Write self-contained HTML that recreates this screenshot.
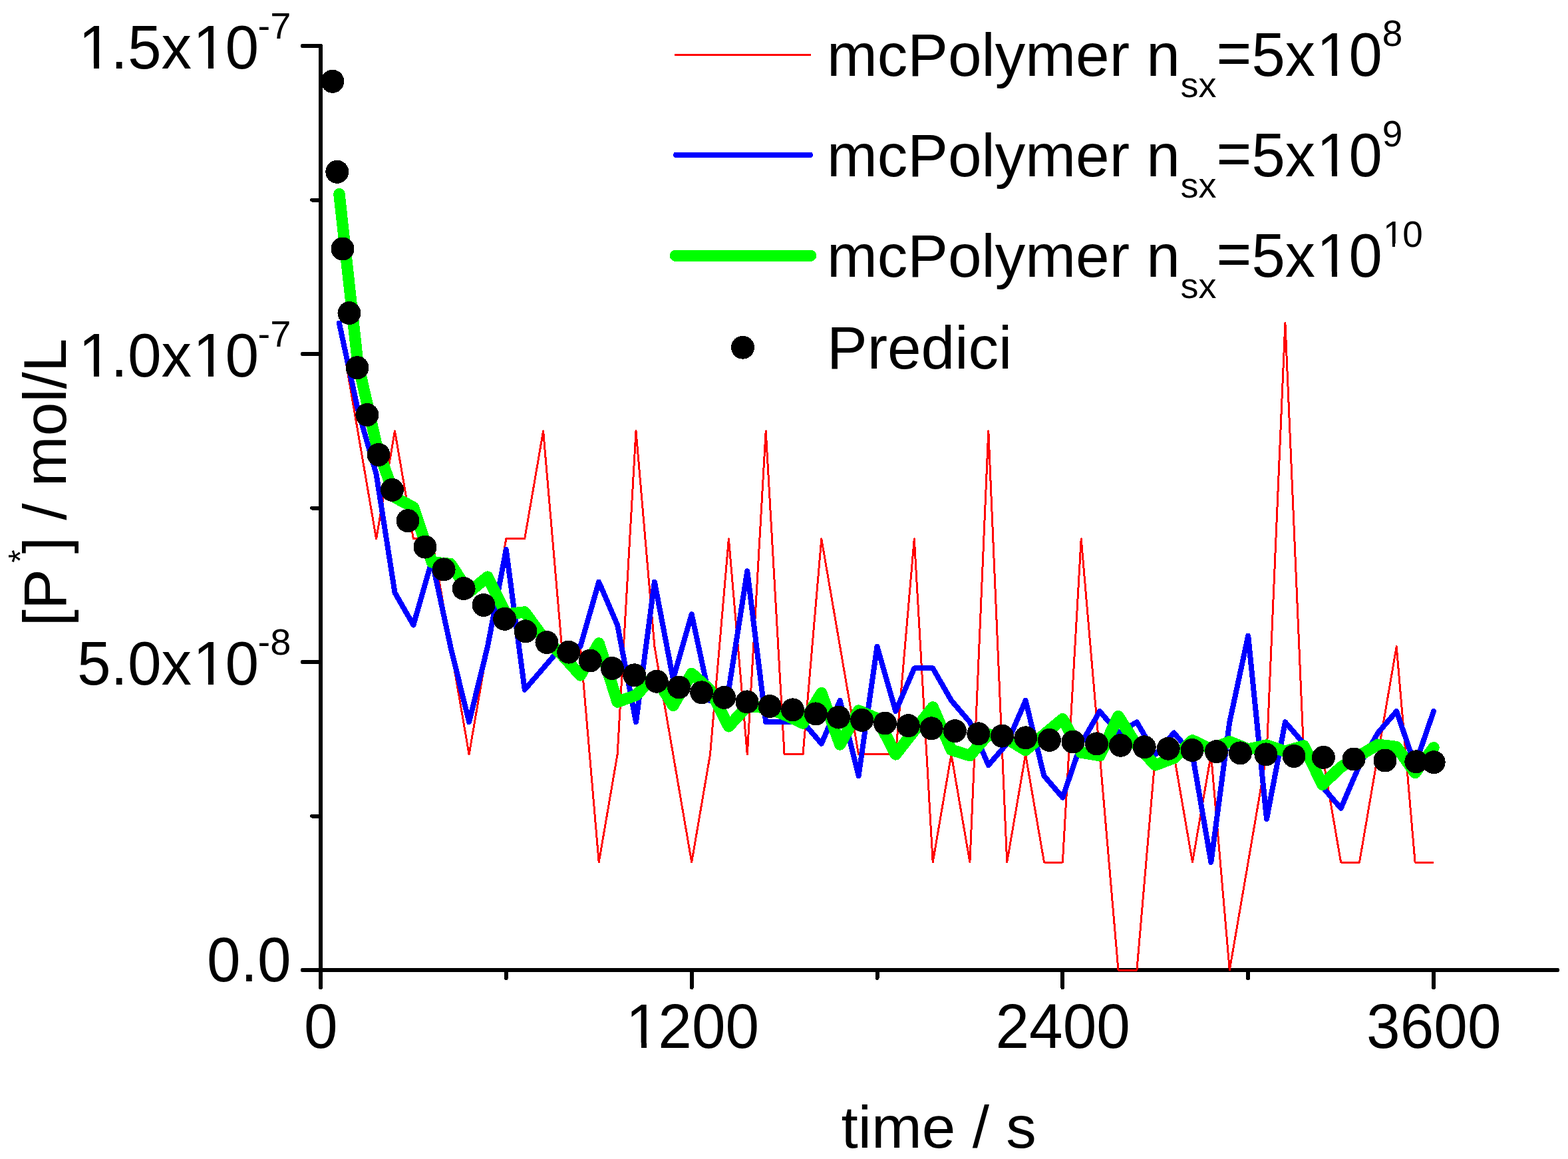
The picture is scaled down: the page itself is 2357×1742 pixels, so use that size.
<!DOCTYPE html>
<html lang="en">
<head>
<meta charset="utf-8">
<title>Radical concentration vs. time</title>
<style>
html,body{margin:0;padding:0;background:#fff;}
body{width:2357px;height:1742px;}
svg{display:block;}
text{font-family:"Liberation Sans",sans-serif;fill:#000;white-space:pre;}
.ax{stroke:#000;stroke-width:6;stroke-linecap:round;fill:none;}
.cover{fill:#fff;}
</style>
</head>
<body>
<svg width="2357" height="1742" viewBox="0 0 2357 1742" shape-rendering="crispEdges" role="img" aria-label="Radical concentration [P*] in mol/L versus time in s">
<rect x="0" y="0" width="2357" height="1742" fill="#ffffff"/>

<g class="ax">
<line x1="482" y1="69" x2="482" y2="1458"/>
<line x1="482" y1="1458" x2="2341" y2="1458"/>
<line x1="455.0" y1="1458.0" x2="482" y2="1458.0"/>
<line x1="469.0" y1="1226.5" x2="482" y2="1226.5"/>
<line x1="455.0" y1="995.0" x2="482" y2="995.0"/>
<line x1="469.0" y1="763.5" x2="482" y2="763.5"/>
<line x1="455.0" y1="532.0" x2="482" y2="532.0"/>
<line x1="469.0" y1="300.5" x2="482" y2="300.5"/>
<line x1="455.0" y1="69.0" x2="482" y2="69.0"/>
<line x1="482.0" y1="1458" x2="482.0" y2="1484.0"/>
<line x1="760.8" y1="1458" x2="760.8" y2="1470.0"/>
<line x1="1039.7" y1="1458" x2="1039.7" y2="1484.0"/>
<line x1="1318.5" y1="1458" x2="1318.5" y2="1470.0"/>
<line x1="1597.3" y1="1458" x2="1597.3" y2="1484.0"/>
<line x1="1876.2" y1="1458" x2="1876.2" y2="1470.0"/>
<line x1="2155.0" y1="1458" x2="2155.0" y2="1484.0"/>
</g>
<g id="y-tick-labels">
<text transform="translate(116,102.9) scale(0.9733,1)" font-size="93.5" x="2 52 78 130 178.8 228.7">1.5x10</text>
<text transform="translate(387.5,57.9) scale(1.0090,1)" font-size="55.5" x="0 18.5">-7</text>
<text transform="translate(116,565.9) scale(0.9733,1)" font-size="93.5" x="2 52 78 130 178.8 228.7">1.0x10</text>
<text transform="translate(387.5,520.9) scale(1.0090,1)" font-size="55.5" x="0 18.5">-7</text>
<text transform="translate(116,1028.9) scale(0.9733,1)" font-size="93.5" x="0 52 78 130 178.8 228.7">5.0x10</text>
<text transform="translate(387.5,983.9) scale(1.0090,1)" font-size="55.5" x="0 18.5">-8</text>
<text transform="translate(311.1,1475) scale(0.9681,1)" font-size="94" x="0 52.3 78.4">0.0</text>
</g>
<g id="x-tick-labels">
<text transform="translate(457,1575) scale(0.9681,1)" font-size="94" x="0">0</text>
<text transform="translate(938.7,1575) scale(0.9681,1)" font-size="94" x="2.1 52.3 104.6 156.8">1200</text>
<text transform="translate(1496.4,1575) scale(0.9681,1)" font-size="94" x="0 52.3 104.6 156.8">2400</text>
<text transform="translate(2054.1,1575) scale(0.9681,1)" font-size="94" x="0 52.3 104.6 156.8">3600</text>
</g>
<g id="axis-titles">
<text transform="translate(1264.5,1724.8) scale(1.0225,1)" font-size="89" x="0 24.7 44.5 118.6 168.1 192.9 217.6 242.3">time / s</text>
<g transform="translate(98.8,941.2) rotate(-90)">
<text transform="translate(0,0) scale(1.0000,1)" font-size="91" x="0 25.3">[P</text>
<text x="95.5" y="-51" font-size="50">*</text>
<text transform="translate(108.9,0) scale(1.0111,1)" font-size="90" x="0 25 50 75 100 175 225 245 270">] / mol/L</text>
</g>
</g>
<g id="legend-labels">
<text transform="translate(1243,113.8) scale(1.0000,1)" font-size="91" x="0 75.8 121.3 182 232.6 252.8 298.3 374.1 424.7 455 480.3">mcPolymer n</text>
<text transform="translate(1774.5,145.7) scale(1.0000,1)" font-size="54" x="0 27">sx</text>
<text transform="translate(1828.6,113.8) scale(0.9679,1)" font-size="93.5" x="0 54.6 106.6 155.4 205.4" y="-2 0 0 0 0">=5x10</text>
<text transform="translate(2077.7,68.5) scale(0.9910,1)" font-size="55.5" x="0">8</text>
<text transform="translate(1243,265) scale(1.0000,1)" font-size="91" x="0 75.8 121.3 182 232.6 252.8 298.3 374.1 424.7 455 480.3">mcPolymer n</text>
<text transform="translate(1774.5,296.9) scale(1.0000,1)" font-size="54" x="0 27">sx</text>
<text transform="translate(1828.6,265) scale(0.9679,1)" font-size="93.5" x="0 54.6 106.6 155.4 205.4" y="-2 0 0 0 0">=5x10</text>
<text transform="translate(2077.7,219.7) scale(0.9910,1)" font-size="55.5" x="0">9</text>
<text transform="translate(1243,416.2) scale(1.0000,1)" font-size="91" x="0 75.8 121.3 182 232.6 252.8 298.3 374.1 424.7 455 480.3">mcPolymer n</text>
<text transform="translate(1774.5,448.1) scale(1.0000,1)" font-size="54" x="0 27">sx</text>
<text transform="translate(1828.6,416.2) scale(0.9679,1)" font-size="93.5" x="0 54.6 106.6 155.4 205.4" y="-2 0 0 0 0">=5x10</text>
<text transform="translate(2077.7,370.9) scale(0.9910,1)" font-size="55.5" x="1.2 30.9">10</text>
<text transform="translate(1243,553.7) scale(1.0000,1)" font-size="91" x="0 60.7 91 141.6 192.2 212.4 257.9">Predici</text>
</g>
<g class="cover">
<rect x="123.4" y="94.7" width="17.7" height="9.4"/>
<rect x="148.7" y="94.7" width="16.9" height="9.4"/>
<rect x="295.4" y="94.7" width="17.7" height="9.4"/>
<rect x="320.7" y="94.7" width="16.9" height="9.4"/>
<rect x="123.4" y="557.7" width="17.7" height="9.4"/>
<rect x="148.7" y="557.7" width="16.9" height="9.4"/>
<rect x="295.4" y="557.7" width="17.7" height="9.4"/>
<rect x="320.7" y="557.7" width="16.9" height="9.4"/>
<rect x="295.4" y="1020.7" width="17.7" height="9.4"/>
<rect x="320.7" y="1020.7" width="16.9" height="9.4"/>
<rect x="946.2" y="1566.8" width="17.7" height="9.4"/>
<rect x="971.5" y="1566.8" width="16.9" height="9.4"/>
<rect x="1984.4" y="105.6" width="17.6" height="9.4"/>
<rect x="2009.6" y="105.6" width="16.9" height="9.4"/>
<rect x="1984.4" y="256.8" width="17.6" height="9.4"/>
<rect x="2009.6" y="256.8" width="16.9" height="9.4"/>
<rect x="1984.4" y="408.0" width="17.6" height="9.4"/>
<rect x="2009.6" y="408.0" width="16.9" height="9.4"/>
<rect x="2081.6" y="365.6" width="11.3" height="6.5"/>
<rect x="2097.4" y="365.6" width="10.9" height="6.5"/>
</g>
<polyline points="509.9,485.7 537.8,647.8 565.6,809.8 593.5,647.8 621.4,809.8 649.3,809.8 677.2,971.8 705.1,1133.9 733.0,971.8 760.8,809.8 788.7,809.8 816.6,647.8 844.5,971.8 872.4,971.8 900.2,1296.0 928.1,1133.9 956.0,647.8 983.9,971.8 1011.8,1133.9 1039.7,1296.0 1067.5,1133.9 1095.4,809.8 1123.3,1133.9 1151.2,647.8 1179.1,1133.9 1207.0,1133.9 1234.8,809.8 1262.7,971.8 1290.6,1133.9 1318.5,1133.9 1346.4,1133.9 1374.3,809.8 1402.2,1296.0 1430.0,1133.9 1457.9,1296.0 1485.8,647.8 1513.7,1296.0 1541.6,1133.9 1569.5,1296.0 1597.3,1296.0 1625.2,809.8 1653.1,1133.9 1681.0,1458.0 1708.9,1458.0 1736.8,1133.9 1764.6,1133.9 1792.5,1296.0 1820.4,1133.9 1848.3,1458.0 1876.2,1296.0 1904.0,1133.9 1931.9,485.7 1959.8,1133.9 1987.7,1133.9 2015.6,1296.0 2043.5,1296.0 2071.3,1133.9 2099.2,971.8 2127.1,1296.0 2155.0,1296.0" fill="none" stroke="#ff0000" stroke-width="3" stroke-linejoin="round"/>
<polyline points="509.9,485.7 537.8,615.3 565.6,712.6 593.5,890.8 621.4,939.4 649.3,842.2 677.2,971.8 705.1,1085.3 733.0,971.8 760.8,826.0 788.7,1036.7 816.6,1004.3 844.5,971.8 872.4,971.8 900.2,874.6 928.1,939.4 956.0,1085.3 983.9,874.6 1011.8,1020.5 1039.7,923.2 1067.5,1052.9 1095.4,1036.7 1123.3,858.4 1151.2,1085.3 1179.1,1085.3 1207.0,1085.3 1234.8,1117.7 1262.7,1052.9 1290.6,1166.3 1318.5,971.8 1346.4,1069.1 1374.3,1004.3 1402.2,1004.3 1430.0,1052.9 1457.9,1085.3 1485.8,1150.1 1513.7,1117.7 1541.6,1052.9 1569.5,1166.3 1597.3,1198.7 1625.2,1117.7 1653.1,1069.1 1681.0,1101.5 1708.9,1085.3 1736.8,1133.9 1764.6,1101.5 1792.5,1133.9 1820.4,1296.0 1848.3,1085.3 1876.2,955.6 1904.0,1231.1 1931.9,1085.3 1959.8,1117.7 1987.7,1182.5 2015.6,1214.9 2043.5,1150.1 2071.3,1101.5 2099.2,1069.1 2127.1,1150.1 2155.0,1069.1" fill="none" stroke="#0000ff" stroke-width="8" stroke-linejoin="round" stroke-linecap="round"/>
<polyline points="509.9,291.5 537.8,545.0 565.6,667.0 593.5,747.5 621.4,762.5 649.3,845.0 677.2,847.5 705.1,890.0 733.0,867.0 760.8,923.0 788.7,920.0 816.6,958.0 844.5,984.0 872.4,1015.0 900.2,967.0 928.1,1055.0 956.0,1045.0 983.9,1016.0 1011.8,1060.5 1039.7,1012.3 1067.5,1037.0 1095.4,1091.8 1123.3,1061.5 1151.2,1063.5 1179.1,1074.2 1207.0,1087.0 1234.8,1041.7 1262.7,1119.0 1290.6,1068.0 1318.5,1079.8 1346.4,1133.9 1374.3,1098.3 1402.2,1062.9 1430.0,1127.0 1457.9,1135.7 1485.8,1103.7 1513.7,1110.6 1541.6,1127.5 1569.5,1104.0 1597.3,1080.7 1625.2,1131.0 1653.1,1135.7 1681.0,1076.5 1708.9,1120.6 1736.8,1149.9 1764.6,1139.4 1792.5,1112.8 1820.4,1126.0 1848.3,1114.7 1876.2,1126.0 1904.0,1120.0 1931.9,1129.2 1959.8,1121.0 1987.7,1179.3 2015.6,1153.0 2043.5,1135.6 2071.3,1119.2 2099.2,1122.5 2127.1,1161.7 2155.0,1123.7" fill="none" stroke="#00ff00" stroke-width="17.4" stroke-linejoin="round" stroke-linecap="round"/>
<g fill="#000">
<circle cx="499.9" cy="122.3" r="17.5"/>
<circle cx="506.8" cy="258.3" r="17.5"/>
<circle cx="515.0" cy="374.0" r="17.5"/>
<circle cx="525.0" cy="470.6" r="17.5"/>
<circle cx="537.0" cy="552.7" r="17.5"/>
<circle cx="551.9" cy="623.5" r="17.5"/>
<circle cx="569.0" cy="683.4" r="17.5"/>
<circle cx="589.5" cy="736.4" r="17.5"/>
<circle cx="613.0" cy="782.7" r="17.5"/>
<circle cx="639.0" cy="822.1" r="17.5"/>
<circle cx="667.1" cy="855.9" r="17.5"/>
<circle cx="697.1" cy="884.6" r="17.5"/>
<circle cx="727.0" cy="909.4" r="17.5"/>
<circle cx="758.6" cy="930.3" r="17.5"/>
<circle cx="790.0" cy="948.8" r="17.5"/>
<circle cx="822.0" cy="965.5" r="17.5"/>
<circle cx="854.7" cy="980.1" r="17.5"/>
<circle cx="887.2" cy="993.0" r="17.5"/>
<circle cx="920.4" cy="1004.5" r="17.5"/>
<circle cx="953.7" cy="1014.8" r="17.5"/>
<circle cx="987.2" cy="1024.2" r="17.5"/>
<circle cx="1020.6" cy="1033.0" r="17.5"/>
<circle cx="1054.7" cy="1040.8" r="17.5"/>
<circle cx="1088.8" cy="1048.4" r="17.5"/>
<circle cx="1123.0" cy="1054.9" r="17.5"/>
<circle cx="1157.1" cy="1061.5" r="17.5"/>
<circle cx="1191.6" cy="1066.9" r="17.5"/>
<circle cx="1226.3" cy="1072.9" r="17.5"/>
<circle cx="1260.5" cy="1078.0" r="17.5"/>
<circle cx="1295.7" cy="1082.4" r="17.5"/>
<circle cx="1330.4" cy="1087.0" r="17.5"/>
<circle cx="1365.3" cy="1090.7" r="17.5"/>
<circle cx="1400.2" cy="1094.8" r="17.5"/>
<circle cx="1435.4" cy="1098.6" r="17.5"/>
<circle cx="1470.8" cy="1102.8" r="17.5"/>
<circle cx="1506.4" cy="1106.1" r="17.5"/>
<circle cx="1541.8" cy="1108.8" r="17.5"/>
<circle cx="1577.4" cy="1112.4" r="17.5"/>
<circle cx="1613.0" cy="1115.0" r="17.5"/>
<circle cx="1648.5" cy="1117.9" r="17.5"/>
<circle cx="1684.5" cy="1120.3" r="17.5"/>
<circle cx="1720.2" cy="1122.8" r="17.5"/>
<circle cx="1756.2" cy="1125.2" r="17.5"/>
<circle cx="1792.1" cy="1127.6" r="17.5"/>
<circle cx="1828.3" cy="1129.7" r="17.5"/>
<circle cx="1864.4" cy="1131.9" r="17.5"/>
<circle cx="1902.9" cy="1133.9" r="17.5"/>
<circle cx="1945.0" cy="1136.4" r="17.5"/>
<circle cx="1989.4" cy="1138.3" r="17.5"/>
<circle cx="2035.0" cy="1141.0" r="17.5"/>
<circle cx="2082.0" cy="1143.0" r="17.5"/>
<circle cx="2128.8" cy="1144.8" r="17.5"/>
<circle cx="2155.2" cy="1145.7" r="17.5"/>
</g>
<line x1="1015.5" y1="82.4" x2="1217.5" y2="82.4" stroke="#ff0000" stroke-width="3" stroke-linecap="round"/>
<line x1="1016" y1="232.8" x2="1218" y2="232.8" stroke="#0000ff" stroke-width="8" stroke-linecap="round"/>
<line x1="1015.5" y1="384.2" x2="1218.5" y2="384.2" stroke="#00ff00" stroke-width="17.4" stroke-linecap="round"/>
<circle cx="1116.5" cy="522.2" r="17.5" fill="#000"/>
</svg>
</body>
</html>
